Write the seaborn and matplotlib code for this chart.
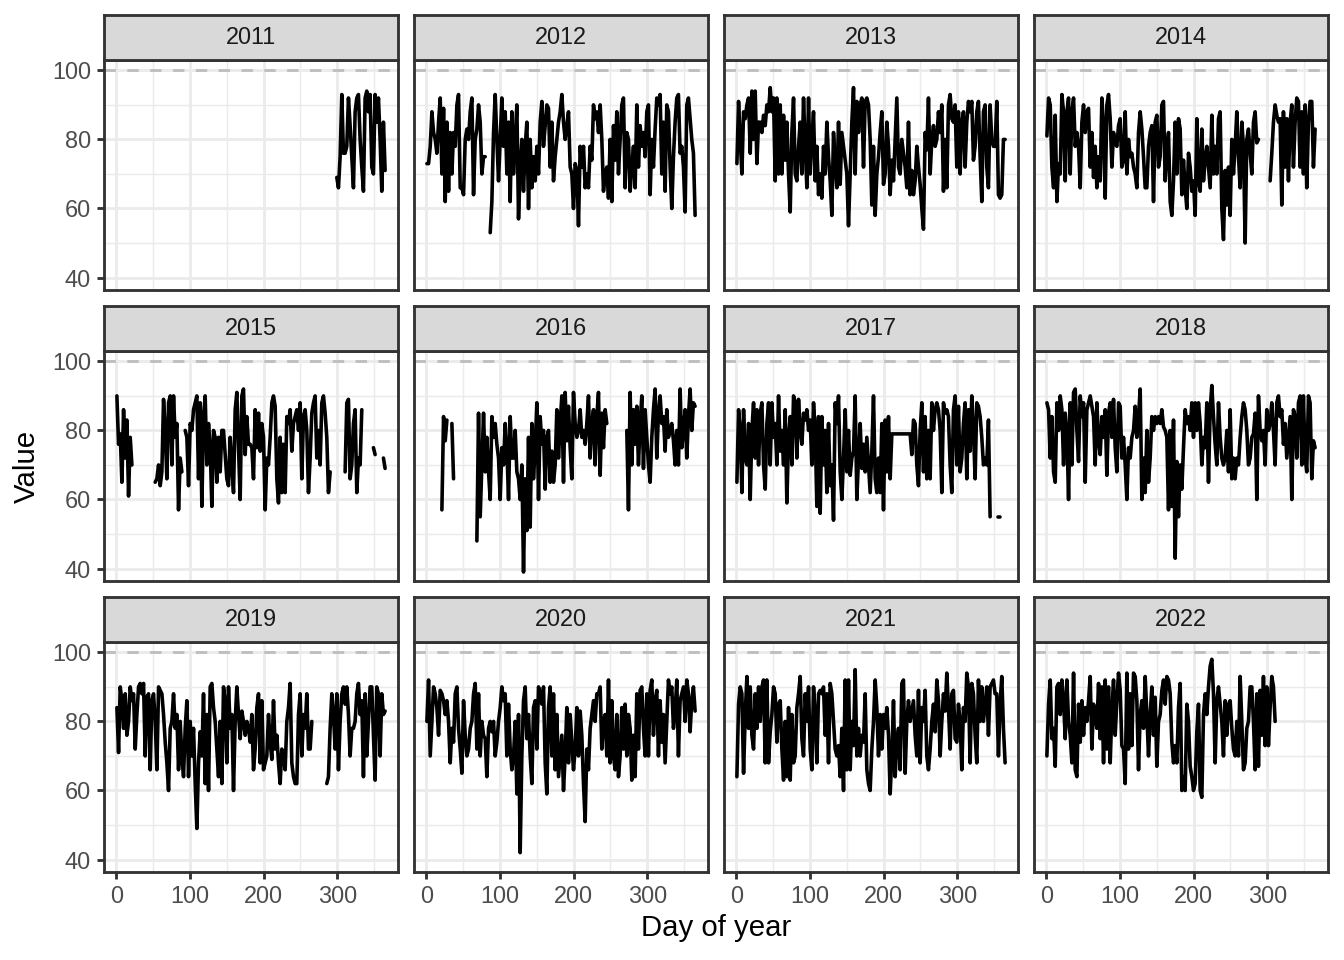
import numpy as np
import pandas as pd
import matplotlib
matplotlib.use("Agg")
import matplotlib.pyplot as plt
import seaborn as sns
from matplotlib.ticker import FixedLocator

nan = np.nan

days = np.linspace(1, 365, 162)

years = [2011, 2012, 2013, 2014, 2015, 2016, 2017, 2018, 2019, 2020, 2021, 2022]

y2011 = [nan] * 132 + [
    69, 66, 75, 93, 76, 76, 78, 92, 84, 75,
    66, 88, 92, 93, 80, 72, 65, 92, 94, 88,
    93, 72, 70, 93, 85, 92, 80, 65, 85, 71]

y2012 = [
    73, 73, 78, 88, 82, 80, 76, 85, 92, 70,
    89, 62, 85, 65, 82, 70, 82, 78, 90, 93,
    66, 66, 64, 80, 83, 80, 88, 92, 64, 80,
    83, 90, 85, 70, 75, 75, nan, nan, 53, 62,
    82, 93, 80, 68, 80, 92, 78, 88, 70, 85,
    62, 88, 70, 80, 90, 57, 72, 80, 65, 78,
    85, 60, 80, 66, 75, 68, 78, 70, 85, 91,
    78, 84, 90, 89, 72, 85, 68, 75, 80, 85,
    88, 93, 85, 80, 84, 88, 72, 70, 60, 73,
    71, 55, 78, 72, 78, 66, 70, 66, 78, 74,
    90, 86, 88, 82, 90, 80, 65, 70, 72, 63,
    80, 62, 84, 74, 88, 70, 80, 90, 92, 66,
    82, 80, 65, 72, 78, 66, 90, 72, 84, 78,
    82, 75, 88, 90, 64, 80, 72, 83, 92, 90,
    93, 70, 85, 65, 90, 88, 72, 60, 75, 85,
    92, 93, 76, 78, 72, 59, 90, 92, 86, 80,
    76, 58]

y2013 = [
    73, 91, 80, 70, 88, 86, 90, 92, 76, 94,
    80, 94, 73, 85, 85, 82, 87, 84, 90, 88,
    95, 88, 92, 68, 92, 70, 90, 70, 87, 74,
    85, 70, 59, 82, 92, 70, 68, 78, 85, 70,
    92, 78, 66, 92, 70, 80, 88, 68, 78, 64,
    70, 63, 78, 70, 85, 75, 68, 58, 82, 73,
    66, 85, 67, 82, 78, 74, 70, 55, 70, 85,
    95, 70, 91, 82, 90, 92, 72, 91, 92, 90,
    80, 61, 78, 58, 70, 75, 82, 88, 67, 70,
    85, 78, 64, 74, 68, 80, 92, 72, 70, 80,
    76, 72, 66, 85, 64, 71, 64, 68, 78, 72,
    67, 60, 54, 82, 77, 92, 70, 80, 84, 78,
    80, 88, 82, 90, 65, 80, 66, 90, 93, 86,
    85, 90, 72, 88, 70, 85, 88, 72, 85, 91,
    88, 91, 74, 78, 88, 91, 75, 62, 88, 90,
    72, 66, 90, 80, 78, 78, 91, 64, 63, 64,
    80, 80]

y2014 = [
    81, 92, 90, 72, 66, 87, 62, 73, 70, 93,
    88, 68, 88, 92, 70, 88, 92, 78, 82, 78,
    66, 85, 90, 82, 88, 89, 72, 82, 69, 78,
    66, 75, 68, 92, 84, 63, 90, 93, 86, 72,
    82, 79, 78, 84, 86, 72, 74, 88, 70, 80,
    75, 76, 72, 70, 66, 82, 88, 83, 75, 66,
    66, 78, 82, 84, 62, 85, 87, 72, 75, 90,
    91, 68, 77, 82, 62, 58, 68, 85, 70, 86,
    83, 64, 74, 66, 60, 76, 72, 65, 68, 58,
    86, 68, 65, 83, 68, 74, 78, 72, 66, 87,
    70, 78, 70, 86, 88, 60, 51, 71, 61, 72,
    58, 80, 70, 78, 88, 75, 66, 85, 78, 50,
    80, 83, 76, 70, 85, 88, 79, 80, nan, nan,
    nan, nan, nan, nan, 68, 76, 85, 90, 87, 85,
    86, 61, 88, 72, 86, 68, 85, 90, 72, 85,
    92, 91, 72, 88, 70, 90, 66, 85, 91, 91,
    72, 83]

y2015 = [
    90, 76, 79, 65, 86, 72, 83, 61, 78, 70,
    nan, nan, nan, nan, nan, nan, nan, nan, nan, nan,
    nan, nan, nan, 65, 66, 70, 64, 68, 89, 80,
    66, 88, 90, 70, 90, 78, 82, 57, 72, 68,
    nan, 80, 78, 64, 82, 80, 86, 88, 90, 66,
    88, 58, 84, 90, 70, 82, 75, 58, 80, 78,
    65, 78, 68, 80, 80, 73, 66, 64, 78, 70,
    62, 86, 91, 75, 60, 90, 92, 73, 84, 76,
    76, 75, 66, 86, 75, 85, 74, 82, 78, 57,
    72, 70, 78, 88, 90, 87, 66, 59, 78, 62,
    76, 62, 84, 82, 86, 74, 82, 84, 86, 80,
    88, 66, 84, 86, 80, 62, 72, 85, 88, 90,
    72, 80, 70, 88, 90, 85, 78, 62, 68, nan,
    nan, nan, nan, nan, nan, nan, nan, 68, 88, 89,
    66, 70, 82, 86, 62, 72, 70, 86, nan, nan,
    nan, nan, nan, nan, 75, 73, nan, nan, nan, nan,
    72, 69]

y2016 = [
    nan, nan, nan, nan, nan, nan, nan, nan, nan, 57,
    84, 77, 83, nan, nan, 82, 66, nan, nan, nan,
    nan, nan, nan, nan, nan, nan, nan, nan, nan, nan,
    48, 85, 55, 70, 85, 68, 78, 68, 60, 84,
    78, 82, 76, 72, 60, 75, 70, 82, 75, 60,
    84, 72, 72, 80, 68, 66, 60, 70, 39, 66,
    51, 78, 52, 82, 66, 75, 88, 60, 84, 76,
    80, 63, 78, 80, 65, 74, 65, 70, 86, 72,
    82, 90, 65, 91, 77, 87, 75, 66, 91, 82,
    78, 80, 86, 78, 80, 76, 82, 90, 72, 82,
    86, 70, 84, 91, 67, 85, 75, 86, 82, nan,
    nan, nan, nan, nan, nan, nan, nan, nan, nan, nan,
    80, 57, 91, 70, 86, 76, 87, 70, 82, 90,
    69, 86, 78, 70, 65, 78, 86, 92, 72, 85,
    90, 82, 84, 74, 86, 78, 80, 82, 77, 70,
    80, 70, 92, 75, 80, 86, 72, 84, 92, 80,
    88, 87]

y2017 = [
    65, 86, 80, 62, 86, 72, 70, 82, 60, 80,
    88, 72, 86, 70, 85, 88, 70, 63, 82, 88,
    70, 88, 78, 82, 70, 90, 74, 80, 70, 86,
    59, 78, 84, 70, 90, 88, 72, 89, 80, 76,
    85, 83, 86, 80, 83, 70, 88, 80, 58, 84,
    56, 84, 70, 80, 62, 82, 64, 70, 54, 88,
    82, 90, 68, 60, 72, 86, 68, 80, 67, 72,
    74, 90, 60, 72, 82, 69, 76, 68, 78, 70,
    62, 74, 90, 66, 62, 72, 62, 82, 57, 83,
    68, 84, 66, 79, 79, 79, 79, 79, 79, 79,
    79, 79, 79, 79, 79, 73, 83, 82, 70, 64,
    80, 88, 68, 84, 66, 80, 66, 88, 80, 86,
    88, 86, 80, 62, 88, 85, 86, 84, 70, 62,
    86, 90, 70, 87, 68, 72, 82, 88, 66, 86,
    74, 90, 80, 66, 88, 87, 84, 78, 70, 72,
    70, 83, 55, nan, nan, nan, nan, 55, 55, nan,
    nan, nan]

y2018 = [
    88, 86, 72, 84, 68, 65, 88, 80, 90, 86,
    70, 85, 80, 60, 88, 70, 91, 92, 80, 71,
    90, 84, 88, 65, 86, 88, 90, 87, 84, 70,
    88, 77, 73, 84, 78, 86, 67, 85, 88, 78,
    89, 75, 68, 88, 87, 72, 78, 70, 60, 75,
    72, 78, 80, 87, 78, 84, 92, 60, 72, 62,
    80, 65, 72, 84, 80, 84, 82, 84, 82, 86,
    81, 80, 78, 57, 80, 58, 83, 43, 71, 55,
    70, 63, 75, 86, 82, 84, 80, 88, 78, 88,
    80, 88, 82, 70, 78, 75, 88, 65, 86, 93,
    84, 76, 70, 88, 78, 72, 70, 72, 80, 68,
    86, 66, 72, 66, 72, 70, 78, 84, 88, 86,
    80, 70, 72, 78, 79, 85, 60, 90, 80, 77,
    80, 70, 86, 80, 82, 88, 80, 70, 88, 90,
    84, 86, 76, 82, 72, 78, 84, 60, 86, 84,
    72, 88, 90, 70, 90, 72, 68, 90, 88, 66,
    77, 75]

y2019 = [
    84, 71, 90, 86, 78, 88, 76, 80, 90, 86,
    88, 72, 82, 90, 91, 88, 91, 70, 87, 88,
    66, 86, 88, 80, 66, 90, 89, 88, 82, 74,
    68, 60, 78, 80, 88, 78, 82, 66, 80, 70,
    64, 78, 86, 64, 80, 70, 78, 62, 49, 68,
    77, 70, 88, 62, 82, 60, 90, 91, 84, 80,
    72, 64, 80, 62, 90, 86, 68, 90, 78, 82,
    60, 80, 90, 82, 75, 83, 80, 76, 80, 78,
    74, 82, 66, 72, 84, 88, 68, 86, 66, 68,
    70, 82, 74, 69, 86, 72, 76, 68, 62, 72,
    70, 66, 80, 84, 91, 68, 64, 62, 62, 82,
    88, 70, 82, 78, 88, 72, 72, 80, nan, nan,
    nan, nan, nan, nan, nan, nan, 62, 64, 78, 88,
    82, 72, 88, 66, 80, 88, 90, 85, 90, 82,
    70, 78, 78, 80, 88, 91, 82, 86, 64, 88,
    70, 80, 90, 90, 76, 63, 90, 88, 70, 88,
    82, 83]

y2020 = [
    80, 92, 70, 80, 90, 88, 84, 76, 89, 88,
    86, 82, 86, 80, 68, 78, 74, 88, 90, 78,
    72, 65, 86, 76, 70, 72, 78, 80, 88, 91,
    72, 88, 70, 80, 76, 75, 64, 78, 80, 77,
    80, 70, 74, 80, 84, 90, 86, 88, 70, 85,
    72, 66, 70, 80, 59, 82, 42, 70, 86, 90,
    75, 82, 70, 62, 84, 86, 72, 90, 88, 85,
    90, 68, 59, 84, 90, 70, 88, 66, 82, 64,
    70, 76, 60, 70, 84, 68, 82, 74, 66, 72,
    84, 70, 83, 76, 62, 51, 72, 66, 78, 82,
    86, 80, 88, 88, 90, 72, 80, 82, 70, 92,
    68, 86, 70, 66, 82, 64, 70, 84, 72, 85,
    70, 82, 78, 63, 76, 64, 88, 72, 89, 90,
    78, 70, 88, 70, 89, 92, 76, 86, 89, 70,
    86, 74, 82, 68, 80, 92, 88, 90, 78, 83,
    92, 70, 86, 88, 90, 80, 92, 88, 77, 86,
    90, 83]

y2021 = [
    64, 85, 90, 88, 65, 82, 93, 78, 90, 76,
    72, 88, 78, 90, 80, 90, 92, 68, 92, 68,
    77, 82, 90, 88, 74, 85, 86, 72, 63, 80,
    64, 84, 63, 82, 68, 70, 84, 88, 93, 75,
    70, 88, 80, 90, 72, 66, 90, 82, 68, 88,
    89, 88, 90, 76, 88, 68, 91, 88, 80, 72,
    70, 73, 64, 78, 60, 92, 66, 92, 66, 80,
    73, 95, 70, 78, 70, 76, 74, 88, 66, 62,
    60, 72, 80, 92, 84, 70, 82, 72, 82, 78,
    84, 76, 59, 70, 86, 64, 74, 78, 66, 91,
    92, 65, 80, 86, 80, 83, 86, 76, 70, 89,
    68, 84, 80, 89, 70, 66, 72, 80, 85, 77,
    92, 86, 70, 80, 88, 83, 94, 84, 72, 88,
    89, 75, 74, 85, 80, 66, 84, 80, 94, 90,
    68, 91, 88, 76, 68, 92, 80, 90, 80, 85,
    90, 76, 90, 91, 92, 88, 88, 70, 85, 93,
    78, 68]

y2022 = [
    70, 85, 92, 75, 78, 67, 90, 91, 82, 92,
    86, 75, 92, 80, 76, 68, 94, 66, 64, 85,
    74, 86, 76, 84, 80, 86, 93, 72, 85, 82,
    78, 91, 75, 90, 68, 92, 72, 90, 68, 83,
    92, 76, 86, 94, 89, 73, 72, 62, 94, 72,
    88, 73, 94, 93, 86, 66, 82, 86, 78, 93,
    82, 70, 82, 90, 76, 87, 67, 80, 82, 89,
    92, 85, 93, 92, 88, 74, 68, 73, 68, 84,
    91, 60, 64, 60, 85, 80, 67, 64, 60, 62,
    77, 85, 60, 58, 82, 88, 82, 90, 96, 98,
    88, 68, 86, 90, 85, 80, 70, 86, 76, 85,
    86, 78, 72, 70, 80, 70, 93, 80, 66, 68,
    78, 80, 90, 90, 80, 66, 88, 67, 89, 76,
    93, 73, 90, 73, 84, 93, 90, 80, nan, nan,
    nan, nan, nan, nan, nan, nan, nan, nan, nan, nan,
    nan, nan, nan, nan, nan, nan, nan, nan, nan, nan,
    nan, nan]

series = [y2011, y2012, y2013, y2014, y2015, y2016,
          y2017, y2018, y2019, y2020, y2021, y2022]

x_ticks = [0, 100, 200, 300]
y_ticks = [40, 60, 80, 100]
ref_value = 100

for yr, s in zip(years, series):
    assert len(s) == len(days), (yr, len(s))

# ---------------- styling / layout ----------------
sns.set_theme(style="white")
plt.rcParams["font.family"] = ["Liberation Sans", "DejaVu Sans"]

W, H = 1344, 960
fig = plt.figure(figsize=(7, 5), dpi=192)

col_x = [104, 414, 724, 1034]
strip_top = [15, 306, 597]
pw, ph, sh = 294, 230, 45

LW = 1.07
GRID = "#EBEBEB"
BORDER = "#333333"

for k, (yr, vals) in enumerate(zip(years, series)):
    r, c = divmod(k, 4)
    x0 = col_x[c]
    ytop = strip_top[r]
    ax = fig.add_axes([x0 / W, 1 - (ytop + sh + ph) / H, pw / W, ph / H])

    df = pd.DataFrame({"day": days, "value": vals})
    df["seg"] = df["value"].isna().cumsum()
    df = df.dropna()

    ax.set_axisbelow(True)
    ax.xaxis.set_major_locator(FixedLocator(x_ticks))
    ax.yaxis.set_major_locator(FixedLocator(y_ticks))
    ax.xaxis.set_minor_locator(FixedLocator([50, 150, 250, 350]))
    ax.yaxis.set_minor_locator(FixedLocator([50, 70, 90]))
    ax.grid(which="major", color=GRID, lw=LW)
    ax.grid(which="minor", color=GRID, lw=LW / 2)

    ax.axhline(ref_value, color="#BEBEBE", lw=LW, ls=(0, (4, 4)), zorder=1.5)
    sns.lineplot(data=df, x="day", y="value", units="seg", estimator=None,
                 color="black", linewidth=1.35, ax=ax, zorder=3)

    ax.set_xlim(-16.5, 382.5)
    ax.set_ylim(36.4, 103.0)
    ax.set_xlabel("")
    ax.set_ylabel("")
    for s in ax.spines.values():
        s.set_color(BORDER)
        s.set_linewidth(LW)
        s.set_visible(True)

    ax.tick_params(which="minor", length=0)
    ax.tick_params(which="major", length=2.75, width=LW, color=BORDER,
                   labelsize=8.8, labelcolor="#4D4D4D", pad=2.2)
    left = c == 0
    bottom = r == 2
    ax.tick_params(axis="y", left=left, labelleft=left)
    ax.tick_params(axis="x", bottom=bottom, labelbottom=bottom)
    if left:
        ax.set_yticklabels([str(v) for v in y_ticks])
    if bottom:
        ax.set_xticklabels([str(v) for v in x_ticks])

    # facet strip
    sax = fig.add_axes([x0 / W, 1 - (ytop + sh) / H, pw / W, sh / H])
    sax.set_facecolor("#D9D9D9")
    sax.set_xticks([])
    sax.set_yticks([])
    for s in sax.spines.values():
        s.set_color(BORDER)
        s.set_linewidth(LW)
        s.set_visible(True)
    sax.text(0.5, 0.5, str(yr), ha="center", va="center", fontsize=8.8,
             color="#1A1A1A", transform=sax.transAxes)

fig.text(716 / W, 1 - 928 / H, "Day of year", ha="center", va="center",
         fontsize=11, color="black")
fig.text(27 / W, 1 - 466 / H, "Value", ha="center", va="center",
         rotation=90, fontsize=11, color="black")

fig.savefig("out.png", dpi=192)
